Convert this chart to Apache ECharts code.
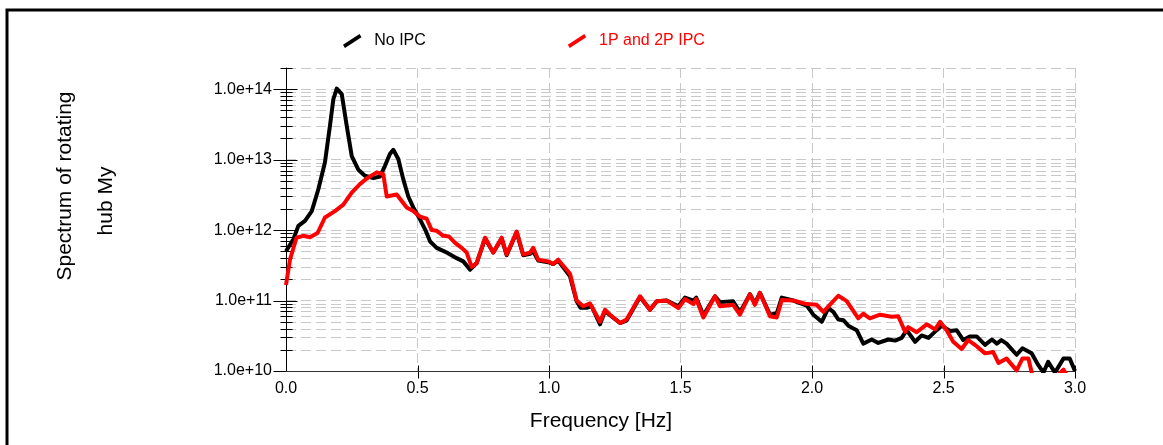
<!DOCTYPE html>
<html>
<head>
<meta charset="utf-8">
<script src="https://cdn.jsdelivr.net/npm/echarts@6/dist/echarts.min.js"></script>
<style>
html, body { margin: 0; padding: 0; background: #fff; }
#spectrum_chart { width: 1163px; height: 445px; }
</style>
</head>
<body>
<div id="spectrum_chart"></div>
<script>
// frequency [Hz] / spectrum values
var freq_no_ipc = [0.0, 0.028, 0.047, 0.072, 0.098, 0.123, 0.148, 0.167, 0.18, 0.193, 0.212, 0.231, 0.25, 0.275, 0.30, 0.332, 0.357, 0.376, 0.395, 0.408, 0.427, 0.446, 0.465, 0.484, 0.51, 0.53, 0.548, 0.573, 0.611, 0.649, 0.674, 0.70, 0.725, 0.757, 0.788, 0.82, 0.839, 0.877, 0.902, 0.928, 0.94, 0.959, 0.997, 1.016, 1.035, 1.08, 1.105, 1.12, 1.143, 1.162, 1.194, 1.213, 1.232, 1.27, 1.295, 1.346, 1.384, 1.41, 1.448, 1.492, 1.517, 1.549, 1.56, 1.587, 1.631, 1.65, 1.70, 1.726, 1.764, 1.783, 1.802, 1.84, 1.866, 1.885, 1.929, 1.98, 2.005, 2.037, 2.062, 2.081, 2.10, 2.12, 2.138, 2.17, 2.195, 2.227, 2.252, 2.29, 2.316, 2.341, 2.36, 2.392, 2.417, 2.443, 2.474, 2.493, 2.525, 2.55, 2.575, 2.60, 2.626, 2.658, 2.684, 2.703, 2.72, 2.74, 2.778, 2.80, 2.835, 2.86, 2.88, 2.898, 2.924, 2.956, 2.98, 3.0];
var spec_no_ipc = [5.0e11, 7.4e11, 1.15e12, 1.35e12, 1.86e12, 3.8e12, 9.1e12, 3.0e13, 7.2e13, 1.02e14, 8.5e13, 3.0e13, 1.12e13, 7.2e12, 5.9e12, 5.5e12, 5.75e12, 8.1e12, 1.2e13, 1.38e13, 1.02e13, 5.25e12, 3.0e12, 2.1e12, 1.41e12, 1.0e12, 6.9e11, 5.6e11, 4.8e11, 4.0e11, 3.6e11, 2.75e11, 3.4e11, 7.6e11, 4.8e11, 7.6e11, 4.4e11, 9.3e11, 4.4e11, 4.6e11, 5.0e11, 3.7e11, 3.5e11, 3.3e11, 3.7e11, 2.2e11, 9.8e10, 7.9e10, 7.9e10, 8.3e10, 4.6e10, 7.1e10, 6.2e10, 4.8e10, 5.2e10, 1.12e11, 7.4e10, 9.8e10, 1.0e11, 8.3e10, 1.1e11, 1.0e11, 1.1e11, 6.2e10, 1.15e11, 9.5e10, 9.8e10, 6.8e10, 1.23e11, 9.1e10, 1.29e11, 6.3e10, 6.6e10, 1.1e11, 1.0e11, 8.5e10, 6.3e10, 5.0e10, 7.8e10, 6.9e10, 5.4e10, 5.25e10, 4.4e10, 3.8e10, 2.45e10, 2.8e10, 2.5e10, 2.8e10, 2.7e10, 2.95e10, 3.8e10, 2.6e10, 3.2e10, 2.95e10, 3.8e10, 4.4e10, 3.7e10, 3.8e10, 2.75e10, 3.1e10, 3.1e10, 2.35e10, 2.8e10, 2.45e10, 2.75e10, 2.45e10, 1.7e10, 2.1e10, 1.78e10, 1.22e10, 9.5e9, 1.35e10, 9.5e9, 1.5e10, 1.5e10, 1.0e10];

var freq_ipc = [0.0, 0.015, 0.04, 0.065, 0.091, 0.12, 0.148, 0.186, 0.218, 0.25, 0.281, 0.307, 0.345, 0.37, 0.383, 0.421, 0.459, 0.484, 0.51, 0.535, 0.554, 0.573, 0.598, 0.62, 0.643, 0.668, 0.687, 0.706, 0.725, 0.757, 0.788, 0.82, 0.839, 0.877, 0.902, 0.928, 0.94, 0.959, 0.997, 1.016, 1.035, 1.08, 1.105, 1.13, 1.156, 1.194, 1.213, 1.232, 1.27, 1.295, 1.346, 1.384, 1.41, 1.448, 1.492, 1.517, 1.549, 1.56, 1.587, 1.631, 1.65, 1.70, 1.726, 1.764, 1.783, 1.802, 1.84, 1.866, 1.885, 1.929, 1.98, 2.018, 2.043, 2.10, 2.132, 2.176, 2.195, 2.22, 2.259, 2.303, 2.328, 2.354, 2.366, 2.398, 2.436, 2.468, 2.487, 2.512, 2.537, 2.569, 2.594, 2.626, 2.658, 2.689, 2.709, 2.74, 2.778, 2.80, 2.823, 2.84, 2.87, 2.90, 2.93, 2.956, 2.975, 3.0];
var spec_ipc = [1.66e11, 3.8e11, 7.8e11, 8.3e11, 7.9e11, 9.1e11, 1.51e12, 1.86e12, 2.3e12, 3.4e12, 4.5e12, 5.4e12, 6.6e12, 6.2e12, 3.0e12, 3.2e12, 2.1e12, 1.86e12, 1.55e12, 1.45e12, 1.0e12, 9.8e11, 8.3e11, 8.1e11, 6.6e11, 5.6e11, 4.8e11, 3.0e11, 3.4e11, 7.8e11, 4.8e11, 7.8e11, 4.5e11, 9.5e11, 4.5e11, 4.8e11, 5.6e11, 3.8e11, 3.6e11, 3.3e11, 3.8e11, 2.4e11, 1.0e11, 8.3e10, 9.1e10, 5.0e10, 7.4e10, 6.3e10, 4.8e10, 5.4e10, 1.15e11, 7.4e10, 9.8e10, 1.0e11, 7.8e10, 1.05e11, 8.9e10, 1.05e11, 5.75e10, 1.15e11, 8.3e10, 8.7e10, 6.3e10, 1.23e11, 8.7e10, 1.29e11, 6.0e10, 5.75e10, 1.02e11, 1.0e11, 8.9e10, 8.7e10, 6.9e10, 1.17e11, 9.8e10, 5.6e10, 6.5e10, 5.6e10, 6.3e10, 5.9e10, 6.0e10, 3.6e10, 4.2e10, 3.55e10, 4.6e10, 3.9e10, 5.0e10, 3.8e10, 2.6e10, 2.05e10, 2.75e10, 2.25e10, 1.78e10, 1.86e10, 1.3e10, 1.5e10, 1.02e10, 1.5e10, 1.5e10, 8e9, 7e9, 8e9, 8.3e9, 1.05e10, 8e9, 7e9];

var x_ticks = [0.5, 1.0, 1.5, 2.0, 2.5, 3.0];
var y_major = [1e10, 1e11, 1e12, 1e13, 1e14];
var y_minor = [2e10, 3e10, 4e10, 5e10, 6e10, 7e10, 8e10, 9e10,
               2e11, 3e11, 4e11, 5e11, 6e11, 7e11, 8e11, 9e11,
               2e12, 3e12, 4e12, 5e12, 6e12, 7e12, 8e12, 9e12,
               2e13, 3e13, 4e13, 5e13, 6e13, 7e13, 8e13, 9e13, 2e14];

var FONT = 'Liberation Sans, Arial, Helvetica, sans-serif';
var GRID_DASH = { color: '#c8c8c8', width: 1, type: [10, 5] };

function pairUp(xs, ys) {
    var out = [];
    for (var i = 0; i < xs.length; i++) out.push([xs[i], ys[i]]);
    return out;
}

var myChart = echarts.init(document.getElementById('spectrum_chart'), null, { renderer: 'canvas' });

var option = {
    animation: false,
    backgroundColor: '#fff',
    grid: { left: 286, right: 88, top: 68, bottom: 74 },
    legend: {
        left: 338,
        top: 28,
        itemWidth: 20,
        itemHeight: 14,
        itemGap: 142,
        icon: 'path://M0.5,10.8 L17.5,-0.2 L19.5,3.2 L2.5,14.2 Z',
        itemStyle: { borderWidth: 0 },
        textStyle: { fontSize: 16, fontFamily: FONT, padding: [0, 0, 0, 7] },
        data: [
            { name: 'No IPC', textStyle: { color: '#000' } },
            { name: '1P and 2P IPC', textStyle: { color: '#ff0000' } }
        ]
    },
    xAxis: {
        type: 'value',
        min: 0,
        max: 3,
        interval: 0.5,
        axisLine: { lineStyle: { color: '#333', width: 1 } },
        axisTick: { show: false },
        axisLabel: {
            fontSize: 16, fontFamily: FONT, color: '#000', margin: 10,
            formatter: function (v) { return v.toFixed(1); }
        },
        splitLine: { show: true, lineStyle: GRID_DASH }
    },
    yAxis: {
        type: 'log',
        logBase: 10,
        min: 1e10,
        max: 2e14,
        axisLine: { show: true, lineStyle: { color: '#000', width: 1 } },
        axisTick: { show: false },
        axisLabel: {
            fontSize: 16, fontFamily: FONT, color: '#000', margin: 14,
            formatter: function (v) {
                var e = Math.log10(v);
                if (Math.abs(e - Math.round(e)) > 1e-6) return '';
                return '1.0e+' + Math.round(e);
            }
        },
        splitLine: { show: true, lineStyle: GRID_DASH }
    },
    series: [
        {
            name: 'No IPC',
            type: 'line',
            data: pairUp(freq_no_ipc, spec_no_ipc),
            showSymbol: false,
            symbol: 'none',
            clip: true,
            itemStyle: { color: '#000000' },
            lineStyle: { color: '#000000', width: 4, join: 'round' }
        },
        {
            name: '1P and 2P IPC',
            type: 'line',
            data: pairUp(freq_ipc, spec_ipc),
            showSymbol: false,
            symbol: 'none',
            clip: true,
            itemStyle: { color: '#ff0000' },
            lineStyle: { color: '#ff0000', width: 4, join: 'round' }
        }
    ]
};

myChart.setOption(option);

// minor log grid, crossing ticks, axis names and frame
function drawExtras() {
    var g = [];
    var x0 = myChart.convertToPixel({ xAxisIndex: 0 }, 0);
    var x1 = myChart.convertToPixel({ xAxisIndex: 0 }, 3);
    var yb = Math.round(myChart.convertToPixel({ yAxisIndex: 0 }, 1e10)) + 0.5;
    var xa = Math.round(x0) + 0.5;

    g.push({ type: 'rect', silent: true, shape: { x: 7, y: 10, width: 1300, height: 600 },
             style: { fill: 'none', stroke: '#000', lineWidth: 3 } });

    y_minor.forEach(function (v) {
        var y = Math.round(myChart.convertToPixel({ yAxisIndex: 0 }, v)) + 0.5;
        g.push({ type: 'line', silent: true, shape: { x1: x0, y1: y, x2: x1, y2: y },
                 style: { stroke: '#c8c8c8', lineWidth: 1, lineDash: [10, 5] } });
        g.push({ type: 'line', silent: true, shape: { x1: xa - 6, y1: y, x2: xa + 6, y2: y },
                 style: { stroke: '#000', lineWidth: 1 } });
    });
    y_major.forEach(function (v) {
        var y = Math.round(myChart.convertToPixel({ yAxisIndex: 0 }, v)) + 0.5;
        g.push({ type: 'line', silent: true, shape: { x1: xa - 13, y1: y, x2: xa + 11, y2: y },
                 style: { stroke: '#000', lineWidth: 1 } });
    });
    x_ticks.forEach(function (v) {
        var x = Math.round(myChart.convertToPixel({ xAxisIndex: 0 }, v)) + 0.5;
        g.push({ type: 'line', silent: true, shape: { x1: x, y1: yb - 6, x2: x, y2: yb + 7 },
                 style: { stroke: '#000', lineWidth: 1 } });
    });

    g.push({ type: 'text', silent: true, x: 601, y: 421,
             style: { text: 'Frequency [Hz]', font: '21px ' + FONT, fill: '#000', align: 'center', verticalAlign: 'middle' } });
    g.push({ type: 'text', silent: true, x: 65, y: 186, rotation: Math.PI / 2,
             style: { text: 'Spectrum of rotating', font: '21px ' + FONT, fill: '#000', align: 'center', verticalAlign: 'middle' } });
    g.push({ type: 'text', silent: true, x: 106, y: 201, rotation: Math.PI / 2,
             style: { text: 'hub My', font: '21px ' + FONT, fill: '#000', align: 'center', verticalAlign: 'middle' } });

    myChart.setOption({ graphic: g });
}

drawExtras();
</script>
</body>
</html>
